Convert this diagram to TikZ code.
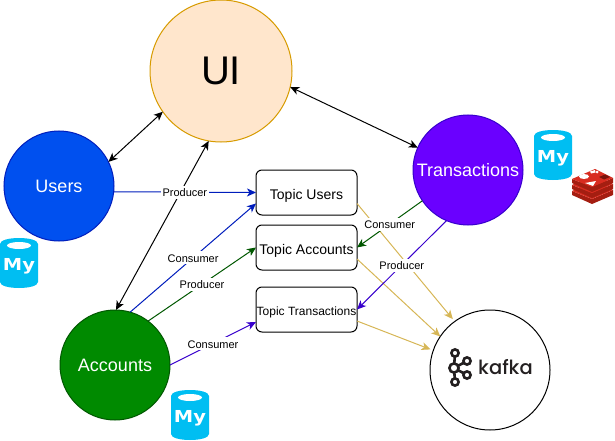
\documentclass[tikz,border=0pt]{standalone}
\usepackage{fontspec}
\setmainfont{Liberation Sans}
\newfontfamily\mylogofont{DejaVu Sans}
\newfontfamily\kafkafont{Poppins}[UprightFont=* Medium]
\usetikzlibrary{arrows.meta,calc}
\definecolor{myblue}{HTML}{00BEF2}
\definecolor{kafkaink}{HTML}{231F20}
\definecolor{goldline}{HTML}{D6B656}
\definecolor{uiline}{HTML}{D79B00}
\definecolor{uifill}{HTML}{FFE6CC}
\definecolor{usersline}{HTML}{001DBC}
\definecolor{usersfill}{HTML}{0050EF}
\definecolor{transline}{HTML}{3700CC}
\definecolor{transfill}{HTML}{6A00FF}
\definecolor{accline}{HTML}{005700}
\definecolor{accfill}{HTML}{008A00}
\definecolor{redisdark}{HTML}{A41E11}
\definecolor{redismid}{HTML}{D82C20}
\definecolor{redisdeep}{HTML}{7A140C}
\tikzset{
  x=1pt,y=-1pt,
  tip/.style={-{Stealth[length=9pt,width=8pt,inset=2.5pt]}},
  twotip/.style={{Stealth[length=9pt,width=8pt,inset=2.5pt]}-{Stealth[length=9pt,width=8pt,inset=2.5pt]}},
  svc/.style={circle,draw,inner sep=0pt,outer sep=0pt,line width=1pt,minimum size=110pt,align=center,text=white,font=\fontsize{18}{20}\selectfont},
  topicbox/.style={draw=black,line width=1pt,rounded corners=6pt,minimum width=101pt,minimum height=45pt,inner sep=0pt,outer sep=0pt,text height=13pt,text depth=0pt,font=\fontsize{14}{16}\selectfont},
  edgelabel/.style={fill=white,inner sep=1.5pt,text height=9.5pt,text depth=0.5pt,font=\fontsize{11}{12}\selectfont,text=black},
  link/.style={tip,line width=1pt},
  toKafka/.style={tip,line width=1pt,draw=goldline},
  mysql/.pic={
    \fill[myblue] (0,6) .. controls (0,-2) and (38,-2) .. (38,6) -- (38,44)
       .. controls (38,52) and (0,52) .. (0,44) -- cycle;
    \fill[white] (19,7.5) ellipse [x radius=12,y radius=3.5];
    \node[transform shape,xscale=1.18,text=white,inner sep=0pt,font=\mylogofont\bfseries\fontsize{16.5}{18}\selectfont] at (19,28) {My};
  },
}
\begin{document}
\begin{tikzpicture}
\useasboundingbox (0,0) rectangle (615,441);

% services
\node[svc,minimum size=142pt,draw=uiline,fill=uifill,text=black,font=\fontsize{40}{44}\selectfont] (ui) at (221,71) {UI};
\node[svc,draw=usersline,fill=usersfill] (users) at (59,186) {Users};
\node[svc,draw=transline,fill=transfill] (trans) at (468,170) {Transactions};
\node[svc,draw=accline,fill=accfill] (acc) at (115,365) {Accounts};
\node[svc,minimum size=120pt,draw=black,fill=white] (kafka) at (490,370) {};

% topics
\node[topicbox] (tu) at (306.5,192.5) {Topic Users};
\node[topicbox] (ta) at (306.5,247.5) {Topic Accounts};
\node[topicbox,text height=11.6pt,font=\fontsize{12}{14}\selectfont] (tt) at (306.5,309.5) {Topic Transactions};

% topics to kafka
\draw[toKafka,shorten >=3pt] ([yshift=-11pt]tu.east) -- (kafka.126);
\draw[toKafka] ([yshift=-11.5pt]ta.east) -- (kafka.146.6);
\draw[toKafka,shorten >=3pt] ([yshift=-11.5pt]tt.east) -- (kafka.161.6);

% UI links
\draw[twotip,line width=1pt] (users.26.6) -- (ui.215);
\draw[twotip,line width=1pt] (ui.-13.6) -- (trans.156.7);
\draw[twotip,line width=1pt] (acc.89) -- (ui.260.5);

% producers and consumers
\draw[link,draw=usersline] (users.-6.3) -- node[edgelabel]{Producer} (tu.west);
\draw[link,draw=usersline] (acc.74.5) -- node[edgelabel]{Consumer} ([yshift=-11pt]tu.west);
\draw[link,draw=accline] (acc.53) -- node[edgelabel]{Producer} (ta.west);
\draw[link,draw=transline] (acc.east) -- node[edgelabel]{Consumer} ([yshift=-12.5pt]tt.west);
\draw[link,draw=accline] (trans.214.3) -- node[edgelabel]{Consumer} (ta.east);
\draw[link,draw=transline] (trans.247.6) -- node[edgelabel]{Producer} (tt.east);

% MySQL icons
\pic at (534,130) {mysql};
\pic at (0,238) {mysql};
\pic at (171,390) {mysql};

% Redis icon
\begin{scope}[shift={(572,168)}]
  \foreach \dy in {12,6,0}{
    \fill[redisdark] (0,{11+\dy}) -- (0,{15+\dy}) -- (20,{24+\dy}) -- (41,{15+\dy}) -- (41,{10+\dy}) -- (20,{19+\dy}) -- cycle;
    \fill[redismid] (0,{11+\dy}) -- (23,{1+\dy}) -- (41,{10+\dy}) -- (20,{19+\dy}) -- cycle;
  }
  \fill[white] (12,8.5) ellipse [x radius=5,y radius=2.5];
  \fill[white] (18,3.5) -- (23,2) -- (23.5,4.5) -- (19,5.5) -- cycle;
  \fill[white] (25,4) circle [radius=1.5];
  \fill[white] (13,15) -- (24,13) -- (21,18) -- cycle;
  \fill[redisdeep] (27,9) -- (33,6.5) -- (38,9) -- (32,11.5) -- cycle;
\end{scope}

% Kafka logo
\begin{scope}[draw=kafkaink,line width=2.6pt]
  \draw (455,353) -- (454,368) -- (455,382);
  \draw (467,361) -- (454,368) -- (467,375);
  \draw[fill=white] (455,353) circle [radius=3.6];
  \draw[fill=white] (454,368) circle [radius=4.6];
  \draw[fill=white] (455,382) circle [radius=3.6];
  \draw[fill=white] (467,361) circle [radius=3.6];
  \draw[fill=white] (467,375) circle [radius=3.6];
\end{scope}
\node[inner sep=0pt,text=kafkaink,font=\kafkafont\fontsize{19.5}{22}\selectfont] (kafkaword) at (505.5,367) {kafka};
\end{tikzpicture}
\end{document}
